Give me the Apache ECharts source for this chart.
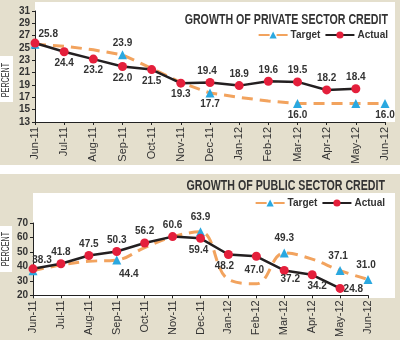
<!DOCTYPE html>
<html>
<head>
<meta charset="utf-8">
<script src="https://cdn.jsdelivr.net/npm/echarts@6/dist/echarts.min.js"></script>
<style>html,body{margin:0;padding:0;background:#e4dfcd;}#c{width:400px;height:340px;}</style>
</head>
<body>
<div id="c"></div>
<script>
// ---- data ----
const months = ['Jun-11','Jul-11','Aug-11','Sep-11','Oct-11','Nov-11','Dec-11','Jan-12','Feb-12','Mar-12','Apr-12','May-12','Jun-12'];
const privateActual = [25.8, 24.4, 23.2, 22.0, 21.5, 19.3, 19.4, 18.9, 19.6, 19.5, 18.2, 18.4, null];
const privateTarget = [25.6, 25.3, 24.7, 23.9, 21.7, 19.4, 17.7, 17.0, 16.4, 16.0, 16.0, 16.0, 16.0];
const publicActual  = [38.3, 41.8, 47.5, 50.3, 56.2, 60.6, 59.4, 48.2, 47.0, 37.2, 34.2, 24.8, null];
const publicTarget  = [37.0, 41.0, 43.5, 44.4, 53.0, 60.5, 63.9, 31.0, 28.0, 49.3, 45.0, 37.1, 31.0];
const targetCheckpoints = [0, 3, 6, 9, 11, 12];
const privateTicks = {min: 13, max: 31, interval: 2};
const publicTicks  = {min: 20, max: 70, interval: 10};

// ---- styling ----
const FONT = "'Liberation Sans','Arial',sans-serif";
const TXT = '#333333';
const fmt = p => Number(p.value).toFixed(1);
const labelBase = {show: true, color: TXT, fontFamily: FONT, fontWeight: 'bold', fontSize: 10, formatter: fmt};

function items(vals, symbolIdx, labelCfg, dist) {
  return vals.map((v, i) => {
    const it = {value: v};
    if (symbolIdx && symbolIdx.indexOf(i) < 0) it.symbol = 'none';
    const l = labelCfg[i];
    if (l) it.label = Object.assign({}, labelBase, {position: l[0], offset: l[1] || [0, 0], distance: dist});
    return it;
  });
}

const privActLbl = {0:['right',[-3,-9]],1:['bottom'],2:['bottom'],3:['bottom'],4:['bottom'],5:['bottom'],
  6:['top',[-3,0]],7:['top'],8:['top'],9:['top'],10:['top'],11:['top']};
const privTgtLbl = {3:['top'],6:['bottom'],9:['bottom'],12:['bottom']};
const pubActLbl = {0:['top',[9,3]],1:['top'],2:['top'],3:['top'],4:['top'],5:['top'],
  6:['bottom',[-2,0]],7:['bottom',[-4,0]],8:['bottom',[-2,2]],9:['bottom',[6,-3]],10:['bottom',[5,0]],11:['right',[-3,1]]};
const pubTgtLbl = {3:['bottom',[12,0]],6:['top'],9:['top'],11:['top',[-2,0]],12:['top',[-2,0]]};

const tgtLine = {color: '#f2a35e', width: 3, type: [11, 7]};
const tgtItem = {color: '#2aa8e0'};
const actLine = {color: '#231f20', width: 2.5};
const actItem = {color: '#e41f3b'};

function xAxis(gi) {
  return {type: 'category', gridIndex: gi, data: months, boundaryGap: false,
    axisLine: {lineStyle: {color: '#222', width: 1}},
    axisTick: {show: true, length: 3, lineStyle: {color: '#222'}},
    axisLabel: {rotate: 90, interval: 0, margin: 5, color: TXT, fontFamily: FONT, fontSize: 11}};
}
function yAxis(gi, t) {
  return {type: 'value', gridIndex: gi, min: t.min, max: t.max, interval: t.interval,
    splitLine: {show: false},
    axisLine: {show: true, lineStyle: {color: '#222', width: 1}},
    axisTick: {show: true, length: 3, lineStyle: {color: '#222'}},
    axisLabel: {margin: 5, color: TXT, fontFamily: FONT, fontWeight: 'bold', fontSize: 10}};
}
function legend(top, right) {
  return {right: right, top: top, itemWidth: 29, itemHeight: 9, itemGap: 4, padding: 0,
    textStyle: {color: TXT, fontFamily: FONT, fontWeight: 'bold', fontSize: 10, padding: [0, 0, 0, -2]},
    data: ['Target', 'Actual']};
}
function title(x, y, text) {
  return {type: 'text', x: x, y: y, scaleX: 0.76,
    style: {text: text, fill: TXT, font: 'bold 14px ' + FONT, textAlign: 'right', textVerticalAlign: 'middle'}};
}
function yName(y) {
  return {type: 'text', x: 6, y: y, rotation: Math.PI / 2, scaleX: 0.72,
    style: {text: 'PERCENT', fill: TXT, font: '10px ' + FONT, textAlign: 'center', textVerticalAlign: 'middle'}};
}

const chart = echarts.init(document.getElementById('c'), null, {renderer: 'canvas'});
chart.setOption({
  backgroundColor: '#e4dfcd',
  animation: false,
  graphic: [
    {type: 'rect', shape: {x: 35, y: 2, width: 360, height: 120}, style: {fill: '#ffffff'}, z: -10},
    {type: 'rect', shape: {x: 0, y: 165, width: 400, height: 9}, style: {fill: '#ffffff'}, z: -10},
    {type: 'rect', shape: {x: 33, y: 193, width: 362, height: 105}, style: {fill: '#ffffff'}, z: -10},
    {type: 'rect', shape: {x: 0, y: 56, width: 13, height: 46}, style: {fill: '#ffffff'}, z: -10},
    {type: 'rect', shape: {x: 0, y: 226, width: 12, height: 46}, style: {fill: '#ffffff'}, z: -10},
    yName(80), yName(249),
    title(388, 20, 'GROWTH OF PRIVATE SECTOR CREDIT'),
    title(385, 186, 'GROWTH OF PUBLIC SECTOR CREDIT')
  ],
  legend: [legend(30, 12), legend(198, 15)],
  grid: [
    {left: 35, right: 15, top: 11, bottom: 218},
    {left: 33, right: 32, top: 223, bottom: 42}
  ],
  xAxis: [xAxis(0), xAxis(1)],
  yAxis: [yAxis(0, privateTicks), yAxis(1, publicTicks)],
  series: [
    {name: 'Target', type: 'line', xAxisIndex: 0, yAxisIndex: 0, z: 2,
      label: {show: false, formatter: fmt},
      data: items(privateTarget, targetCheckpoints, privTgtLbl, 2),
      symbol: 'triangle', symbolSize: 9, itemStyle: tgtItem, lineStyle: tgtLine},
    {name: 'Actual', type: 'line', xAxisIndex: 0, yAxisIndex: 0, z: 3,
      label: {show: false, formatter: fmt},
      data: items(privateActual, null, privActLbl, 2),
      symbol: 'circle', symbolSize: 9, itemStyle: actItem, lineStyle: actLine},
    {name: 'Target', type: 'line', xAxisIndex: 1, yAxisIndex: 1, z: 2, smooth: 0.4,
      label: {show: false, formatter: fmt},
      data: items(publicTarget, targetCheckpoints, pubTgtLbl, 5),
      symbol: 'triangle', symbolSize: 9, itemStyle: tgtItem, lineStyle: tgtLine},
    {name: 'Actual', type: 'line', xAxisIndex: 1, yAxisIndex: 1, z: 3,
      label: {show: false, formatter: fmt},
      data: items(publicActual, null, pubActLbl, 2),
      symbol: 'circle', symbolSize: 9, itemStyle: actItem, lineStyle: actLine}
  ]
});
</script>
</body>
</html>
